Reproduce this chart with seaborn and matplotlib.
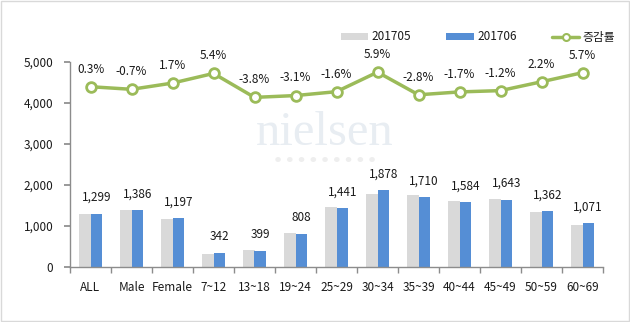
import numpy as np
import pandas as pd
import matplotlib
matplotlib.use("Agg")
import matplotlib.pyplot as plt
import seaborn as sns
from matplotlib.patches import Patch
from matplotlib.lines import Line2D

categories = ["ALL", "Male", "Female", "7~12", "13~18", "19~24", "25~29",
              "30~34", "35~39", "40~44", "45~49", "50~59", "60~69"]
v201705 = [1295, 1396, 1177, 324, 415, 834, 1464, 1773, 1759, 1611, 1663, 1333, 1013]
v201706 = [1299, 1386, 1197, 342, 399, 808, 1441, 1878, 1710, 1584, 1643, 1362, 1071]
growth = [0.3, -0.7, 1.7, 5.4, -3.8, -3.1, -1.6, 5.9, -2.8, -1.7, -1.2, 2.2, 5.7]
series_names = ["201705", "201706"]
line_name = "증감률"

sns.set_theme(style="white")
plt.rcParams['font.family'] = ['Noto Sans CJK KR', 'DejaVu Sans']

GREY = "#D9D9D9"
BLUE = "#558ED5"
GREEN = "#9BBB59"
TXT = "#1a1a1a"
AXC = "#8C8C8C"
FS = 8.5

df = pd.DataFrame({
    "category": categories * 2,
    "series": [series_names[0]] * len(categories) + [series_names[1]] * len(categories),
    "value": v201705 + v201706,
})

fig = plt.figure(figsize=(6.30, 3.22), dpi=100)
ax = fig.add_axes([70/630, 1-267/322, 533/630, 205/322])

sns.barplot(data=df, x="category", y="value", hue="series", order=categories,
            hue_order=series_names, palette=[GREY, BLUE], width=0.56,
            saturation=1, ax=ax, legend=False, errorbar=None)
for p in ax.patches:
    p.set_edgecolor("none")

ax.set_ylim(0, 5000)
ax.set_xlim(-0.5, len(categories) - 0.5)
ax.set_xlabel("")
ax.set_ylabel("")
ax.set_yticks([0, 1000, 2000, 3000, 4000, 5000])
ax.set_yticklabels([f"{t:,}" for t in [0, 1000, 2000, 3000, 4000, 5000]])
ax.tick_params(axis="y", length=4, color=AXC, direction="out", labelsize=FS,
               labelcolor=TXT, pad=8, left=True)
ax.set_xticks(range(len(categories)))
ax.set_xticklabels(categories)
ax.tick_params(axis="x", length=0, labelsize=FS, labelcolor=TXT, pad=10)
ax.set_xticks(np.arange(-0.5, len(categories), 1.0), minor=True)
ax.tick_params(axis="x", which="minor", length=4, color=AXC, direction="out", bottom=True)
for s in ["top", "right"]:
    ax.spines[s].set_visible(False)
for s in ["left", "bottom"]:
    ax.spines[s].set_color(AXC)
    ax.spines[s].set_linewidth(1)
ax.grid(False)

# data labels on 201706 bars
blue_container = ax.containers[1]
for p, v in zip(blue_container.patches, v201706):
    ax.annotate(f"{v:,}", (p.get_x() + p.get_width()/2, p.get_height()),
                xytext=(0, 7), textcoords="offset points", ha="center", va="bottom",
                fontsize=FS, color=TXT)

# secondary axis for growth rate
ax2 = ax.twinx()
x = np.arange(len(categories))
sns.lineplot(x=x, y=growth, ax=ax2, color=GREEN, linewidth=2.5, marker="o",
             markersize=7, markerfacecolor="white", markeredgecolor=GREEN,
             markeredgewidth=2, legend=False)
ax2.set_ylim(-69, 9.8)
ax2.set_xlim(-0.5, len(categories) - 0.5)
ax2.axis("off")
for xi, g in zip(x, growth):
    ax2.annotate(f"{g:.1f}%", (xi, g), xytext=(0, 8), textcoords="offset points",
                 ha="center", va="bottom", fontsize=FS, color=TXT)

# watermark
fig.text(325/630, 1-133/322, "nielsen", family="Liberation Serif", fontsize=35,
         color="#E8EDF2", ha="center", va="center", zorder=0)
fig.text(325/630, 1-160/322, "●    ●    ●    ●    ●    ●    ●    ●    ●", fontsize=4.5,
         color="#EEEEEE", ha="center", va="center", zorder=0)

handles = [Patch(facecolor=GREY, edgecolor="none"),
           Patch(facecolor=BLUE, edgecolor="none"),
           Line2D([0], [0], color=GREEN, lw=2.5, marker="o", markersize=5,
                  markerfacecolor="white", markeredgecolor=GREEN, markeredgewidth=1.5)]
fig.legend(handles, series_names + [line_name], loc="center",
           bbox_to_anchor=(478/630, 1-37/322), ncol=3, frameon=False, fontsize=FS,
           handlelength=2.3, handleheight=0.6, columnspacing=3.0, handletextpad=0.3,
           labelcolor=TXT)

# outer border
fig.patches.append(plt.Rectangle((0.001, 0.002), 0.997, 0.995, transform=fig.transFigure,
                                 fill=False, edgecolor="#D9D9D9", linewidth=1))

fig.savefig("out.png", dpi=100)
